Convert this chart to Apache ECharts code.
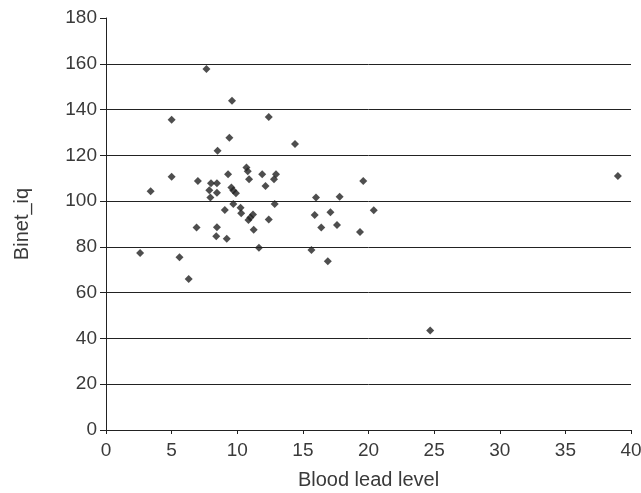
<!DOCTYPE html>
<html>
<head>
<meta charset="utf-8">
<script src="https://cdn.jsdelivr.net/npm/echarts@6/dist/echarts.min.js"></script>
<style>html,body{margin:0;padding:0;background:#fff;}#c{width:641px;height:493px;}</style>
</head>
<body>
<div id="c"></div>
<script>
var leadLevel = [2.6, 3.4, 5.0, 5.0, 5.6, 6.3, 6.9, 7.0, 7.65, 9.6, 12.4, 9.4, 8.5, 8.0, 8.45, 9.3, 10.7, 10.8, 10.9, 11.9, 12.95, 12.8, 12.15, 7.87, 8.45, 7.95, 9.55, 9.7, 9.9, 9.7, 9.05, 10.25, 10.3, 11.2, 11.0, 10.85, 12.85, 12.4, 8.45, 8.4, 9.2, 11.25, 11.65, 14.4, 19.6, 16.0, 17.8, 20.4, 15.9, 17.1, 16.4, 17.6, 19.35, 15.65, 16.9, 24.7, 39.0];
var binetIq = [77.3, 104.3, 135.5, 110.6, 75.5, 66, 88.5, 108.8, 157.7, 143.8, 136.8, 127.7, 122, 107.8, 107.8, 111.7, 114.7, 113.1, 109.6, 111.7, 111.7, 109.5, 106.6, 104.7, 103.7, 101.6, 106, 104.6, 103.4, 98.7, 96.1, 97.1, 94.7, 94.2, 92.8, 91.7, 98.7, 92, 88.6, 84.7, 83.6, 87.5, 79.6, 124.9, 108.8, 101.6, 101.9, 96, 93.9, 95.1, 88.5, 89.6, 86.5, 78.6, 73.7, 43.5, 111];
var xTicks = [0, 40, 5];
var yTicks = [0, 180, 20];

var pts = leadLevel.map(function (v, i) { return [v, binetIq[i]]; });
var gridColors = [];
for (var k = 0; k < 9; k++) gridColors.push('#222');
gridColors.push('rgba(0,0,0,0)');

var chart = echarts.init(document.getElementById('c'), null, {renderer: 'canvas'});
chart.setOption({
  backgroundColor: '#ffffff',
  animation: false,
  textStyle: {fontFamily: 'Liberation Sans, Arial, sans-serif'},
  grid: {left: 106, right: 10, top: 18, bottom: 63, containLabel: false, outerBoundsMode: 'none'},
  xAxis: {
    type: 'value', min: xTicks[0], max: xTicks[1], interval: xTicks[2],
    name: 'Blood lead level', nameLocation: 'middle', nameGap: 40,
    nameTextStyle: {fontSize: 20, color: '#3a3a3a'},
    axisLine: {show: true, onZero: false, lineStyle: {color: '#222', width: 1}},
    axisTick: {show: true, length: 4, lineStyle: {color: '#222'}},
    axisLabel: {fontSize: 19, color: '#3a3a3a', margin: 11},
    splitLine: {show: false}
  },
  yAxis: {
    type: 'value', min: yTicks[0], max: yTicks[1], interval: yTicks[2],
    name: 'Binet_iq', nameLocation: 'middle', nameGap: 74, nameRotate: 90,
    nameTextStyle: {fontSize: 20, color: '#3a3a3a'},
    axisLine: {show: true, lineStyle: {color: '#222', width: 1}},
    axisTick: {show: true, length: 6, lineStyle: {color: '#222'}},
    axisLabel: {fontSize: 19, color: '#3a3a3a', margin: 9},
    splitLine: {show: true, lineStyle: {color: gridColors, width: 1}}
  },
  series: [{
    type: 'scatter',
    data: pts,
    symbol: 'diamond',
    symbolSize: 8,
    itemStyle: {color: '#222'}
  }]
});
</script>
</body>
</html>
